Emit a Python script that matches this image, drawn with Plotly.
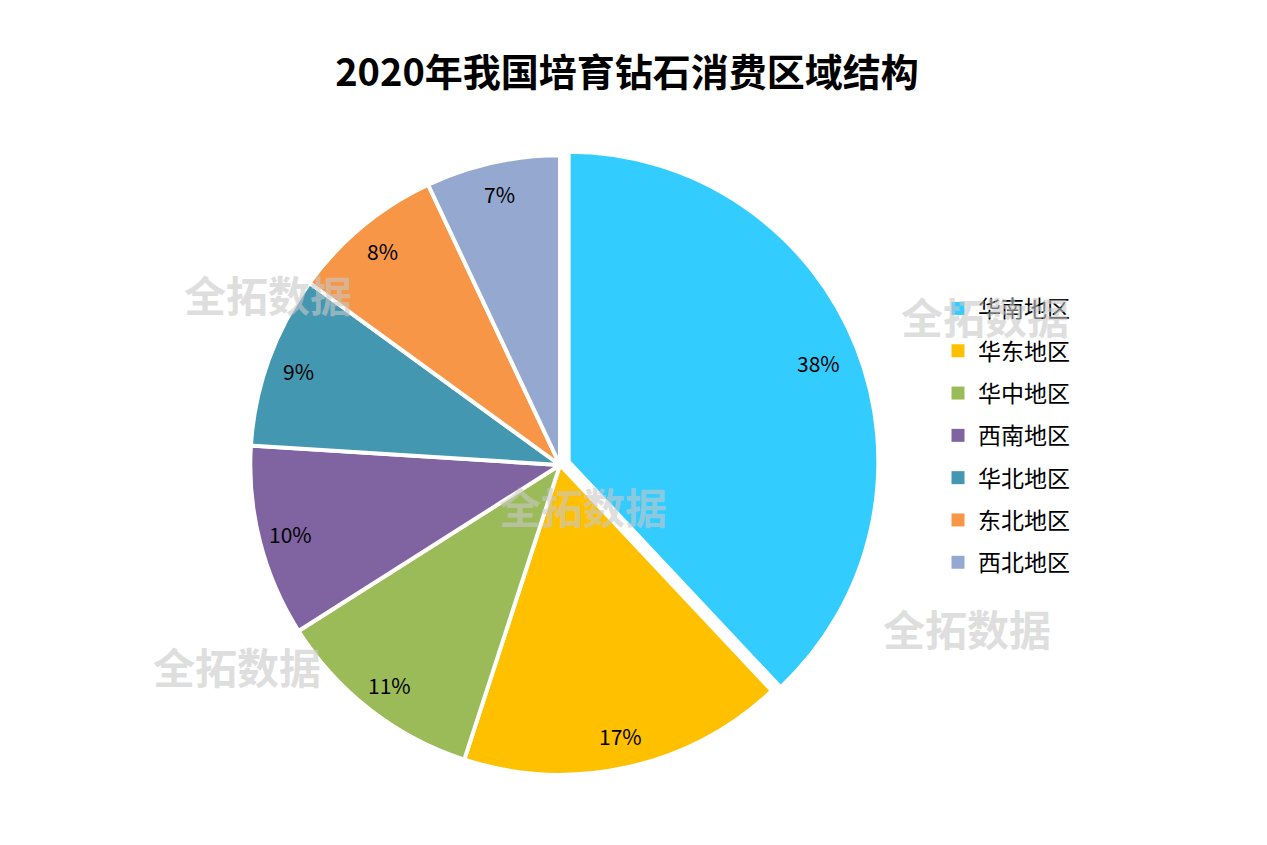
import math
import plotly.graph_objects as go

regions = ["华南地区", "华东地区", "华中地区", "西南地区", "华北地区", "东北地区", "西北地区"]
shares = [38, 17, 11, 10, 9, 8, 7]
colors = ["#33CCFF", "#FFC000", "#9BBB59", "#8064A2", "#4397B0", "#F79646", "#95A9D0"]
title_text = "2020年我国培育钻石消费区域结构"
watermark = "全拓数据"
wm_pos = [(268, 293), (985, 315), (583, 505), (237, 665), (967, 627)]

W, H = 1267, 845
FONT = "Noto Sans CJK SC"
CX, CY = 560, 465          # pie centre in pixels
LABEL_R = 278              # label distance from centre in pixels

fig = go.Figure()
fig.add_trace(go.Pie(
    labels=regions,
    values=shares,
    sort=False,
    direction="clockwise",
    rotation=0,
    pull=[0.03, 0, 0, 0, 0, 0, 0],
    marker=dict(colors=colors, line=dict(color="white", width=4)),
    textinfo="none",
    showlegend=False,
    hoverinfo="label+percent",
    domain=dict(x=[0, 2 * CX / W], y=[61 / H, 1 - 146 / H]),
))

# percentage labels placed at each slice's mid-angle
total = sum(shares)
cum = 0
for v in shares:
    mid = (cum + v / 2) / total * 2 * math.pi
    cum += v
    px = CX + LABEL_R * math.sin(mid)
    py = CY - LABEL_R * math.cos(mid)
    fig.add_annotation(
        x=px / W, y=1 - py / H, xref="paper", yref="paper",
        text=f"{v}%", showarrow=False,
        font=dict(family=FONT, size=21, color="black"),
        xanchor="center", yanchor="middle",
    )

for name, c in zip(regions, colors):
    fig.add_trace(go.Scatter(
        x=[None], y=[None], mode="markers", name=name,
        marker=dict(symbol="square", size=13, color=c),
        legendgroup=name, showlegend=True,
    ))

for (x, y) in wm_pos:
    fig.add_annotation(
        x=x / W, y=1 - y / H, xref="paper", yref="paper",
        text="<b>" + watermark + "</b>", showarrow=False,
        font=dict(family=FONT, size=42, color="rgba(200,200,200,0.6)"),
        xanchor="center", yanchor="middle",
    )

fig.update_layout(
    width=W, height=H,
    margin=dict(l=0, r=0, t=0, b=0),
    paper_bgcolor="white",
    plot_bgcolor="white",
    title=dict(
        text="<b>" + title_text + "</b>",
        x=627 / W, xanchor="center",
        y=1 - 73 / H, yanchor="middle",
        font=dict(family=FONT, size=38, color="black"),
    ),
    xaxis=dict(visible=False),
    yaxis=dict(visible=False),
    legend=dict(
        x=938 / W, xanchor="left",
        y=1 - 287 / H, yanchor="top",
        font=dict(family=FONT, size=23, color="black"),
        tracegroupgap=9.4,
        itemclick=False,
        bgcolor="rgba(0,0,0,0)",
    ),
)

fig.write_html("out.html")
